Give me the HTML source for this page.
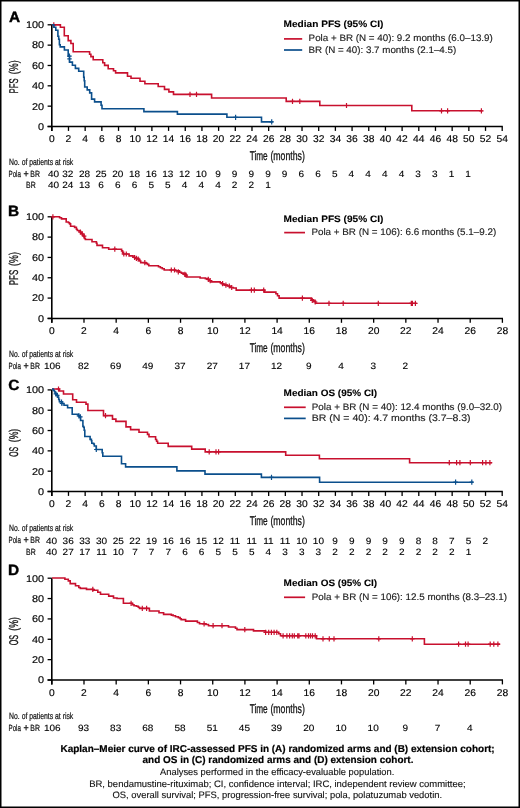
<!DOCTYPE html><html><head><meta charset="utf-8"><style>html,body{margin:0;padding:0;background:#fff;width:520px;height:808px;overflow:hidden}svg{display:block;will-change:transform}</style></head><body>
<svg width="520" height="808" viewBox="0 0 520 808" font-family='"Liberation Sans", sans-serif' text-rendering="geometricPrecision">
<rect x="0" y="0" width="520" height="808" fill="#fff"/>
<rect x="0" y="0" width="520" height="1.5" fill="#000"/>
<rect x="0" y="0" width="1.5" height="808" fill="#000"/>
<rect x="518.5" y="0" width="1.5" height="808" fill="#000"/>
<rect x="0" y="806.5" width="520" height="1.5" fill="#000"/>
<text x="8.9" y="21.6" font-size="14.8" font-weight="bold" textLength="11.12" lengthAdjust="spacingAndGlyphs" stroke="#000" stroke-width="0.4" fill="#000">A</text>
<line x1="51.8" y1="24.8" x2="51.8" y2="130.9" stroke="#000" stroke-width="1.6"/>
<line x1="47.599999999999994" y1="126.5" x2="502.8" y2="126.5" stroke="#000" stroke-width="1.5"/>
<line x1="47.599999999999994" y1="126.50" x2="51.8" y2="126.50" stroke="#000" stroke-width="1.3"/>
<text x="44.1" y="129.85" font-size="9.8" text-anchor="end" textLength="6.05" lengthAdjust="spacingAndGlyphs" stroke="#000" stroke-width="0.15" fill="#000">0</text>
<line x1="47.599999999999994" y1="106.16" x2="51.8" y2="106.16" stroke="#000" stroke-width="1.3"/>
<text x="44.1" y="109.51" font-size="9.8" text-anchor="end" textLength="12.10" lengthAdjust="spacingAndGlyphs" stroke="#000" stroke-width="0.15" fill="#000">20</text>
<line x1="47.599999999999994" y1="85.82" x2="51.8" y2="85.82" stroke="#000" stroke-width="1.3"/>
<text x="44.1" y="89.17" font-size="9.8" text-anchor="end" textLength="12.10" lengthAdjust="spacingAndGlyphs" stroke="#000" stroke-width="0.15" fill="#000">40</text>
<line x1="47.599999999999994" y1="65.48" x2="51.8" y2="65.48" stroke="#000" stroke-width="1.3"/>
<text x="44.1" y="68.83" font-size="9.8" text-anchor="end" textLength="12.10" lengthAdjust="spacingAndGlyphs" stroke="#000" stroke-width="0.15" fill="#000">60</text>
<line x1="47.599999999999994" y1="45.14" x2="51.8" y2="45.14" stroke="#000" stroke-width="1.3"/>
<text x="44.1" y="48.49" font-size="9.8" text-anchor="end" textLength="12.10" lengthAdjust="spacingAndGlyphs" stroke="#000" stroke-width="0.15" fill="#000">80</text>
<line x1="47.599999999999994" y1="24.80" x2="51.8" y2="24.80" stroke="#000" stroke-width="1.3"/>
<text x="44.1" y="28.15" font-size="9.8" text-anchor="end" textLength="18.15" lengthAdjust="spacingAndGlyphs" stroke="#000" stroke-width="0.15" fill="#000">100</text>
<line x1="51.80" y1="126.5" x2="51.80" y2="130.9" stroke="#000" stroke-width="1.3"/>
<text x="51.80" y="142.00" font-size="9.8" text-anchor="middle" textLength="5.72" lengthAdjust="spacingAndGlyphs" stroke="#000" stroke-width="0.15" fill="#000">0</text>
<line x1="68.48" y1="126.5" x2="68.48" y2="130.9" stroke="#000" stroke-width="1.3"/>
<text x="68.48" y="142.00" font-size="9.8" text-anchor="middle" textLength="5.72" lengthAdjust="spacingAndGlyphs" stroke="#000" stroke-width="0.15" fill="#000">2</text>
<line x1="85.16" y1="126.5" x2="85.16" y2="130.9" stroke="#000" stroke-width="1.3"/>
<text x="85.16" y="142.00" font-size="9.8" text-anchor="middle" textLength="5.72" lengthAdjust="spacingAndGlyphs" stroke="#000" stroke-width="0.15" fill="#000">4</text>
<line x1="101.84" y1="126.5" x2="101.84" y2="130.9" stroke="#000" stroke-width="1.3"/>
<text x="101.84" y="142.00" font-size="9.8" text-anchor="middle" textLength="5.72" lengthAdjust="spacingAndGlyphs" stroke="#000" stroke-width="0.15" fill="#000">6</text>
<line x1="118.53" y1="126.5" x2="118.53" y2="130.9" stroke="#000" stroke-width="1.3"/>
<text x="118.53" y="142.00" font-size="9.8" text-anchor="middle" textLength="5.72" lengthAdjust="spacingAndGlyphs" stroke="#000" stroke-width="0.15" fill="#000">8</text>
<line x1="135.21" y1="126.5" x2="135.21" y2="130.9" stroke="#000" stroke-width="1.3"/>
<text x="135.21" y="142.00" font-size="9.8" text-anchor="middle" textLength="11.45" lengthAdjust="spacingAndGlyphs" stroke="#000" stroke-width="0.15" fill="#000">10</text>
<line x1="151.89" y1="126.5" x2="151.89" y2="130.9" stroke="#000" stroke-width="1.3"/>
<text x="151.89" y="142.00" font-size="9.8" text-anchor="middle" textLength="11.45" lengthAdjust="spacingAndGlyphs" stroke="#000" stroke-width="0.15" fill="#000">12</text>
<line x1="168.57" y1="126.5" x2="168.57" y2="130.9" stroke="#000" stroke-width="1.3"/>
<text x="168.57" y="142.00" font-size="9.8" text-anchor="middle" textLength="11.45" lengthAdjust="spacingAndGlyphs" stroke="#000" stroke-width="0.15" fill="#000">14</text>
<line x1="185.25" y1="126.5" x2="185.25" y2="130.9" stroke="#000" stroke-width="1.3"/>
<text x="185.25" y="142.00" font-size="9.8" text-anchor="middle" textLength="11.45" lengthAdjust="spacingAndGlyphs" stroke="#000" stroke-width="0.15" fill="#000">16</text>
<line x1="201.93" y1="126.5" x2="201.93" y2="130.9" stroke="#000" stroke-width="1.3"/>
<text x="201.93" y="142.00" font-size="9.8" text-anchor="middle" textLength="11.45" lengthAdjust="spacingAndGlyphs" stroke="#000" stroke-width="0.15" fill="#000">18</text>
<line x1="218.61" y1="126.5" x2="218.61" y2="130.9" stroke="#000" stroke-width="1.3"/>
<text x="218.61" y="142.00" font-size="9.8" text-anchor="middle" textLength="11.45" lengthAdjust="spacingAndGlyphs" stroke="#000" stroke-width="0.15" fill="#000">20</text>
<line x1="235.30" y1="126.5" x2="235.30" y2="130.9" stroke="#000" stroke-width="1.3"/>
<text x="235.30" y="142.00" font-size="9.8" text-anchor="middle" textLength="11.45" lengthAdjust="spacingAndGlyphs" stroke="#000" stroke-width="0.15" fill="#000">22</text>
<line x1="251.98" y1="126.5" x2="251.98" y2="130.9" stroke="#000" stroke-width="1.3"/>
<text x="251.98" y="142.00" font-size="9.8" text-anchor="middle" textLength="11.45" lengthAdjust="spacingAndGlyphs" stroke="#000" stroke-width="0.15" fill="#000">24</text>
<line x1="268.66" y1="126.5" x2="268.66" y2="130.9" stroke="#000" stroke-width="1.3"/>
<text x="268.66" y="142.00" font-size="9.8" text-anchor="middle" textLength="11.45" lengthAdjust="spacingAndGlyphs" stroke="#000" stroke-width="0.15" fill="#000">26</text>
<line x1="285.34" y1="126.5" x2="285.34" y2="130.9" stroke="#000" stroke-width="1.3"/>
<text x="285.34" y="142.00" font-size="9.8" text-anchor="middle" textLength="11.45" lengthAdjust="spacingAndGlyphs" stroke="#000" stroke-width="0.15" fill="#000">28</text>
<line x1="302.02" y1="126.5" x2="302.02" y2="130.9" stroke="#000" stroke-width="1.3"/>
<text x="302.02" y="142.00" font-size="9.8" text-anchor="middle" textLength="11.45" lengthAdjust="spacingAndGlyphs" stroke="#000" stroke-width="0.15" fill="#000">30</text>
<line x1="318.70" y1="126.5" x2="318.70" y2="130.9" stroke="#000" stroke-width="1.3"/>
<text x="318.70" y="142.00" font-size="9.8" text-anchor="middle" textLength="11.45" lengthAdjust="spacingAndGlyphs" stroke="#000" stroke-width="0.15" fill="#000">32</text>
<line x1="335.39" y1="126.5" x2="335.39" y2="130.9" stroke="#000" stroke-width="1.3"/>
<text x="335.39" y="142.00" font-size="9.8" text-anchor="middle" textLength="11.45" lengthAdjust="spacingAndGlyphs" stroke="#000" stroke-width="0.15" fill="#000">34</text>
<line x1="352.07" y1="126.5" x2="352.07" y2="130.9" stroke="#000" stroke-width="1.3"/>
<text x="352.07" y="142.00" font-size="9.8" text-anchor="middle" textLength="11.45" lengthAdjust="spacingAndGlyphs" stroke="#000" stroke-width="0.15" fill="#000">36</text>
<line x1="368.75" y1="126.5" x2="368.75" y2="130.9" stroke="#000" stroke-width="1.3"/>
<text x="368.75" y="142.00" font-size="9.8" text-anchor="middle" textLength="11.45" lengthAdjust="spacingAndGlyphs" stroke="#000" stroke-width="0.15" fill="#000">38</text>
<line x1="385.43" y1="126.5" x2="385.43" y2="130.9" stroke="#000" stroke-width="1.3"/>
<text x="385.43" y="142.00" font-size="9.8" text-anchor="middle" textLength="11.45" lengthAdjust="spacingAndGlyphs" stroke="#000" stroke-width="0.15" fill="#000">40</text>
<line x1="402.11" y1="126.5" x2="402.11" y2="130.9" stroke="#000" stroke-width="1.3"/>
<text x="402.11" y="142.00" font-size="9.8" text-anchor="middle" textLength="11.45" lengthAdjust="spacingAndGlyphs" stroke="#000" stroke-width="0.15" fill="#000">42</text>
<line x1="418.79" y1="126.5" x2="418.79" y2="130.9" stroke="#000" stroke-width="1.3"/>
<text x="418.79" y="142.00" font-size="9.8" text-anchor="middle" textLength="11.45" lengthAdjust="spacingAndGlyphs" stroke="#000" stroke-width="0.15" fill="#000">44</text>
<line x1="435.47" y1="126.5" x2="435.47" y2="130.9" stroke="#000" stroke-width="1.3"/>
<text x="435.47" y="142.00" font-size="9.8" text-anchor="middle" textLength="11.45" lengthAdjust="spacingAndGlyphs" stroke="#000" stroke-width="0.15" fill="#000">46</text>
<line x1="452.16" y1="126.5" x2="452.16" y2="130.9" stroke="#000" stroke-width="1.3"/>
<text x="452.16" y="142.00" font-size="9.8" text-anchor="middle" textLength="11.45" lengthAdjust="spacingAndGlyphs" stroke="#000" stroke-width="0.15" fill="#000">48</text>
<line x1="468.84" y1="126.5" x2="468.84" y2="130.9" stroke="#000" stroke-width="1.3"/>
<text x="468.84" y="142.00" font-size="9.8" text-anchor="middle" textLength="11.45" lengthAdjust="spacingAndGlyphs" stroke="#000" stroke-width="0.15" fill="#000">50</text>
<line x1="485.52" y1="126.5" x2="485.52" y2="130.9" stroke="#000" stroke-width="1.3"/>
<text x="485.52" y="142.00" font-size="9.8" text-anchor="middle" textLength="11.45" lengthAdjust="spacingAndGlyphs" stroke="#000" stroke-width="0.15" fill="#000">52</text>
<line x1="502.20" y1="126.5" x2="502.20" y2="130.9" stroke="#000" stroke-width="1.3"/>
<text x="502.20" y="142.00" font-size="9.8" text-anchor="middle" textLength="11.45" lengthAdjust="spacingAndGlyphs" stroke="#000" stroke-width="0.15" fill="#000">54</text>
<text transform="translate(17.9,85.9) rotate(-90)" x="0" y="0" font-size="12.7" text-anchor="middle" textLength="15.0" lengthAdjust="spacingAndGlyphs" fill="#111" stroke="#111" stroke-width="0.3">PFS</text>
<text transform="translate(17.9,67.25) rotate(-90)" x="0" y="0" font-size="12.7" text-anchor="middle" textLength="13.9" lengthAdjust="spacingAndGlyphs" fill="#111" stroke="#111" stroke-width="0.3">(%)</text>
<text x="258.7" y="159.80" font-size="12.7" text-anchor="middle" textLength="18.00" lengthAdjust="spacingAndGlyphs" stroke="#111" stroke-width="0.3" fill="#111">Time</text>
<text x="287.6" y="159.80" font-size="12.7" text-anchor="middle" textLength="34.40" lengthAdjust="spacingAndGlyphs" stroke="#111" stroke-width="0.3" fill="#111">(months)</text>
<text x="8.0" y="215.9" font-size="14.8" font-weight="bold" textLength="11.12" lengthAdjust="spacingAndGlyphs" stroke="#000" stroke-width="0.4" fill="#000">B</text>
<line x1="51.8" y1="216.8" x2="51.8" y2="322.79999999999995" stroke="#000" stroke-width="1.6"/>
<line x1="47.599999999999994" y1="318.4" x2="503.0" y2="318.4" stroke="#000" stroke-width="1.5"/>
<line x1="47.599999999999994" y1="318.40" x2="51.8" y2="318.40" stroke="#000" stroke-width="1.3"/>
<text x="44.1" y="321.75" font-size="9.8" text-anchor="end" textLength="6.05" lengthAdjust="spacingAndGlyphs" stroke="#000" stroke-width="0.15" fill="#000">0</text>
<line x1="47.599999999999994" y1="298.08" x2="51.8" y2="298.08" stroke="#000" stroke-width="1.3"/>
<text x="44.1" y="301.43" font-size="9.8" text-anchor="end" textLength="12.10" lengthAdjust="spacingAndGlyphs" stroke="#000" stroke-width="0.15" fill="#000">20</text>
<line x1="47.599999999999994" y1="277.76" x2="51.8" y2="277.76" stroke="#000" stroke-width="1.3"/>
<text x="44.1" y="281.11" font-size="9.8" text-anchor="end" textLength="12.10" lengthAdjust="spacingAndGlyphs" stroke="#000" stroke-width="0.15" fill="#000">40</text>
<line x1="47.599999999999994" y1="257.44" x2="51.8" y2="257.44" stroke="#000" stroke-width="1.3"/>
<text x="44.1" y="260.79" font-size="9.8" text-anchor="end" textLength="12.10" lengthAdjust="spacingAndGlyphs" stroke="#000" stroke-width="0.15" fill="#000">60</text>
<line x1="47.599999999999994" y1="237.12" x2="51.8" y2="237.12" stroke="#000" stroke-width="1.3"/>
<text x="44.1" y="240.47" font-size="9.8" text-anchor="end" textLength="12.10" lengthAdjust="spacingAndGlyphs" stroke="#000" stroke-width="0.15" fill="#000">80</text>
<line x1="47.599999999999994" y1="216.80" x2="51.8" y2="216.80" stroke="#000" stroke-width="1.3"/>
<text x="44.1" y="220.15" font-size="9.8" text-anchor="end" textLength="18.15" lengthAdjust="spacingAndGlyphs" stroke="#000" stroke-width="0.15" fill="#000">100</text>
<line x1="51.80" y1="318.4" x2="51.80" y2="322.79999999999995" stroke="#000" stroke-width="1.3"/>
<text x="51.80" y="333.90" font-size="9.8" text-anchor="middle" textLength="5.72" lengthAdjust="spacingAndGlyphs" stroke="#000" stroke-width="0.15" fill="#000">0</text>
<line x1="83.99" y1="318.4" x2="83.99" y2="322.79999999999995" stroke="#000" stroke-width="1.3"/>
<text x="83.99" y="333.90" font-size="9.8" text-anchor="middle" textLength="5.72" lengthAdjust="spacingAndGlyphs" stroke="#000" stroke-width="0.15" fill="#000">2</text>
<line x1="116.17" y1="318.4" x2="116.17" y2="322.79999999999995" stroke="#000" stroke-width="1.3"/>
<text x="116.17" y="333.90" font-size="9.8" text-anchor="middle" textLength="5.72" lengthAdjust="spacingAndGlyphs" stroke="#000" stroke-width="0.15" fill="#000">4</text>
<line x1="148.36" y1="318.4" x2="148.36" y2="322.79999999999995" stroke="#000" stroke-width="1.3"/>
<text x="148.36" y="333.90" font-size="9.8" text-anchor="middle" textLength="5.72" lengthAdjust="spacingAndGlyphs" stroke="#000" stroke-width="0.15" fill="#000">6</text>
<line x1="180.54" y1="318.4" x2="180.54" y2="322.79999999999995" stroke="#000" stroke-width="1.3"/>
<text x="180.54" y="333.90" font-size="9.8" text-anchor="middle" textLength="5.72" lengthAdjust="spacingAndGlyphs" stroke="#000" stroke-width="0.15" fill="#000">8</text>
<line x1="212.73" y1="318.4" x2="212.73" y2="322.79999999999995" stroke="#000" stroke-width="1.3"/>
<text x="212.73" y="333.90" font-size="9.8" text-anchor="middle" textLength="11.45" lengthAdjust="spacingAndGlyphs" stroke="#000" stroke-width="0.15" fill="#000">10</text>
<line x1="244.91" y1="318.4" x2="244.91" y2="322.79999999999995" stroke="#000" stroke-width="1.3"/>
<text x="244.91" y="333.90" font-size="9.8" text-anchor="middle" textLength="11.45" lengthAdjust="spacingAndGlyphs" stroke="#000" stroke-width="0.15" fill="#000">12</text>
<line x1="277.10" y1="318.4" x2="277.10" y2="322.79999999999995" stroke="#000" stroke-width="1.3"/>
<text x="277.10" y="333.90" font-size="9.8" text-anchor="middle" textLength="11.45" lengthAdjust="spacingAndGlyphs" stroke="#000" stroke-width="0.15" fill="#000">14</text>
<line x1="309.29" y1="318.4" x2="309.29" y2="322.79999999999995" stroke="#000" stroke-width="1.3"/>
<text x="309.29" y="333.90" font-size="9.8" text-anchor="middle" textLength="11.45" lengthAdjust="spacingAndGlyphs" stroke="#000" stroke-width="0.15" fill="#000">16</text>
<line x1="341.47" y1="318.4" x2="341.47" y2="322.79999999999995" stroke="#000" stroke-width="1.3"/>
<text x="341.47" y="333.90" font-size="9.8" text-anchor="middle" textLength="11.45" lengthAdjust="spacingAndGlyphs" stroke="#000" stroke-width="0.15" fill="#000">18</text>
<line x1="373.66" y1="318.4" x2="373.66" y2="322.79999999999995" stroke="#000" stroke-width="1.3"/>
<text x="373.66" y="333.90" font-size="9.8" text-anchor="middle" textLength="11.45" lengthAdjust="spacingAndGlyphs" stroke="#000" stroke-width="0.15" fill="#000">20</text>
<line x1="405.84" y1="318.4" x2="405.84" y2="322.79999999999995" stroke="#000" stroke-width="1.3"/>
<text x="405.84" y="333.90" font-size="9.8" text-anchor="middle" textLength="11.45" lengthAdjust="spacingAndGlyphs" stroke="#000" stroke-width="0.15" fill="#000">22</text>
<line x1="438.03" y1="318.4" x2="438.03" y2="322.79999999999995" stroke="#000" stroke-width="1.3"/>
<text x="438.03" y="333.90" font-size="9.8" text-anchor="middle" textLength="11.45" lengthAdjust="spacingAndGlyphs" stroke="#000" stroke-width="0.15" fill="#000">24</text>
<line x1="470.21" y1="318.4" x2="470.21" y2="322.79999999999995" stroke="#000" stroke-width="1.3"/>
<text x="470.21" y="333.90" font-size="9.8" text-anchor="middle" textLength="11.45" lengthAdjust="spacingAndGlyphs" stroke="#000" stroke-width="0.15" fill="#000">26</text>
<line x1="502.40" y1="318.4" x2="502.40" y2="322.79999999999995" stroke="#000" stroke-width="1.3"/>
<text x="502.40" y="333.90" font-size="9.8" text-anchor="middle" textLength="11.45" lengthAdjust="spacingAndGlyphs" stroke="#000" stroke-width="0.15" fill="#000">28</text>
<text transform="translate(17.9,277.5) rotate(-90)" x="0" y="0" font-size="12.7" text-anchor="middle" textLength="15.4" lengthAdjust="spacingAndGlyphs" fill="#111" stroke="#111" stroke-width="0.3">PFS</text>
<text transform="translate(17.9,259.05) rotate(-90)" x="0" y="0" font-size="12.7" text-anchor="middle" textLength="13.9" lengthAdjust="spacingAndGlyphs" fill="#111" stroke="#111" stroke-width="0.3">(%)</text>
<text x="258.7" y="351.70" font-size="12.7" text-anchor="middle" textLength="18.00" lengthAdjust="spacingAndGlyphs" stroke="#111" stroke-width="0.3" fill="#111">Time</text>
<text x="287.6" y="351.70" font-size="12.7" text-anchor="middle" textLength="34.40" lengthAdjust="spacingAndGlyphs" stroke="#111" stroke-width="0.3" fill="#111">(months)</text>
<text x="8.2" y="389.9" font-size="14.8" font-weight="bold" textLength="11.12" lengthAdjust="spacingAndGlyphs" stroke="#000" stroke-width="0.4" fill="#000">C</text>
<line x1="51.8" y1="389.9" x2="51.8" y2="495.9" stroke="#000" stroke-width="1.6"/>
<line x1="47.599999999999994" y1="491.5" x2="502.8" y2="491.5" stroke="#000" stroke-width="1.5"/>
<line x1="47.599999999999994" y1="491.50" x2="51.8" y2="491.50" stroke="#000" stroke-width="1.3"/>
<text x="44.1" y="494.85" font-size="9.8" text-anchor="end" textLength="6.05" lengthAdjust="spacingAndGlyphs" stroke="#000" stroke-width="0.15" fill="#000">0</text>
<line x1="47.599999999999994" y1="471.18" x2="51.8" y2="471.18" stroke="#000" stroke-width="1.3"/>
<text x="44.1" y="474.53" font-size="9.8" text-anchor="end" textLength="12.10" lengthAdjust="spacingAndGlyphs" stroke="#000" stroke-width="0.15" fill="#000">20</text>
<line x1="47.599999999999994" y1="450.86" x2="51.8" y2="450.86" stroke="#000" stroke-width="1.3"/>
<text x="44.1" y="454.21" font-size="9.8" text-anchor="end" textLength="12.10" lengthAdjust="spacingAndGlyphs" stroke="#000" stroke-width="0.15" fill="#000">40</text>
<line x1="47.599999999999994" y1="430.54" x2="51.8" y2="430.54" stroke="#000" stroke-width="1.3"/>
<text x="44.1" y="433.89" font-size="9.8" text-anchor="end" textLength="12.10" lengthAdjust="spacingAndGlyphs" stroke="#000" stroke-width="0.15" fill="#000">60</text>
<line x1="47.599999999999994" y1="410.22" x2="51.8" y2="410.22" stroke="#000" stroke-width="1.3"/>
<text x="44.1" y="413.57" font-size="9.8" text-anchor="end" textLength="12.10" lengthAdjust="spacingAndGlyphs" stroke="#000" stroke-width="0.15" fill="#000">80</text>
<line x1="47.599999999999994" y1="389.90" x2="51.8" y2="389.90" stroke="#000" stroke-width="1.3"/>
<text x="44.1" y="393.25" font-size="9.8" text-anchor="end" textLength="18.15" lengthAdjust="spacingAndGlyphs" stroke="#000" stroke-width="0.15" fill="#000">100</text>
<line x1="51.80" y1="491.5" x2="51.80" y2="495.9" stroke="#000" stroke-width="1.3"/>
<text x="51.80" y="507.00" font-size="9.8" text-anchor="middle" textLength="5.72" lengthAdjust="spacingAndGlyphs" stroke="#000" stroke-width="0.15" fill="#000">0</text>
<line x1="68.48" y1="491.5" x2="68.48" y2="495.9" stroke="#000" stroke-width="1.3"/>
<text x="68.48" y="507.00" font-size="9.8" text-anchor="middle" textLength="5.72" lengthAdjust="spacingAndGlyphs" stroke="#000" stroke-width="0.15" fill="#000">2</text>
<line x1="85.16" y1="491.5" x2="85.16" y2="495.9" stroke="#000" stroke-width="1.3"/>
<text x="85.16" y="507.00" font-size="9.8" text-anchor="middle" textLength="5.72" lengthAdjust="spacingAndGlyphs" stroke="#000" stroke-width="0.15" fill="#000">4</text>
<line x1="101.84" y1="491.5" x2="101.84" y2="495.9" stroke="#000" stroke-width="1.3"/>
<text x="101.84" y="507.00" font-size="9.8" text-anchor="middle" textLength="5.72" lengthAdjust="spacingAndGlyphs" stroke="#000" stroke-width="0.15" fill="#000">6</text>
<line x1="118.53" y1="491.5" x2="118.53" y2="495.9" stroke="#000" stroke-width="1.3"/>
<text x="118.53" y="507.00" font-size="9.8" text-anchor="middle" textLength="5.72" lengthAdjust="spacingAndGlyphs" stroke="#000" stroke-width="0.15" fill="#000">8</text>
<line x1="135.21" y1="491.5" x2="135.21" y2="495.9" stroke="#000" stroke-width="1.3"/>
<text x="135.21" y="507.00" font-size="9.8" text-anchor="middle" textLength="11.45" lengthAdjust="spacingAndGlyphs" stroke="#000" stroke-width="0.15" fill="#000">10</text>
<line x1="151.89" y1="491.5" x2="151.89" y2="495.9" stroke="#000" stroke-width="1.3"/>
<text x="151.89" y="507.00" font-size="9.8" text-anchor="middle" textLength="11.45" lengthAdjust="spacingAndGlyphs" stroke="#000" stroke-width="0.15" fill="#000">12</text>
<line x1="168.57" y1="491.5" x2="168.57" y2="495.9" stroke="#000" stroke-width="1.3"/>
<text x="168.57" y="507.00" font-size="9.8" text-anchor="middle" textLength="11.45" lengthAdjust="spacingAndGlyphs" stroke="#000" stroke-width="0.15" fill="#000">14</text>
<line x1="185.25" y1="491.5" x2="185.25" y2="495.9" stroke="#000" stroke-width="1.3"/>
<text x="185.25" y="507.00" font-size="9.8" text-anchor="middle" textLength="11.45" lengthAdjust="spacingAndGlyphs" stroke="#000" stroke-width="0.15" fill="#000">16</text>
<line x1="201.93" y1="491.5" x2="201.93" y2="495.9" stroke="#000" stroke-width="1.3"/>
<text x="201.93" y="507.00" font-size="9.8" text-anchor="middle" textLength="11.45" lengthAdjust="spacingAndGlyphs" stroke="#000" stroke-width="0.15" fill="#000">18</text>
<line x1="218.61" y1="491.5" x2="218.61" y2="495.9" stroke="#000" stroke-width="1.3"/>
<text x="218.61" y="507.00" font-size="9.8" text-anchor="middle" textLength="11.45" lengthAdjust="spacingAndGlyphs" stroke="#000" stroke-width="0.15" fill="#000">20</text>
<line x1="235.30" y1="491.5" x2="235.30" y2="495.9" stroke="#000" stroke-width="1.3"/>
<text x="235.30" y="507.00" font-size="9.8" text-anchor="middle" textLength="11.45" lengthAdjust="spacingAndGlyphs" stroke="#000" stroke-width="0.15" fill="#000">22</text>
<line x1="251.98" y1="491.5" x2="251.98" y2="495.9" stroke="#000" stroke-width="1.3"/>
<text x="251.98" y="507.00" font-size="9.8" text-anchor="middle" textLength="11.45" lengthAdjust="spacingAndGlyphs" stroke="#000" stroke-width="0.15" fill="#000">24</text>
<line x1="268.66" y1="491.5" x2="268.66" y2="495.9" stroke="#000" stroke-width="1.3"/>
<text x="268.66" y="507.00" font-size="9.8" text-anchor="middle" textLength="11.45" lengthAdjust="spacingAndGlyphs" stroke="#000" stroke-width="0.15" fill="#000">26</text>
<line x1="285.34" y1="491.5" x2="285.34" y2="495.9" stroke="#000" stroke-width="1.3"/>
<text x="285.34" y="507.00" font-size="9.8" text-anchor="middle" textLength="11.45" lengthAdjust="spacingAndGlyphs" stroke="#000" stroke-width="0.15" fill="#000">28</text>
<line x1="302.02" y1="491.5" x2="302.02" y2="495.9" stroke="#000" stroke-width="1.3"/>
<text x="302.02" y="507.00" font-size="9.8" text-anchor="middle" textLength="11.45" lengthAdjust="spacingAndGlyphs" stroke="#000" stroke-width="0.15" fill="#000">30</text>
<line x1="318.70" y1="491.5" x2="318.70" y2="495.9" stroke="#000" stroke-width="1.3"/>
<text x="318.70" y="507.00" font-size="9.8" text-anchor="middle" textLength="11.45" lengthAdjust="spacingAndGlyphs" stroke="#000" stroke-width="0.15" fill="#000">32</text>
<line x1="335.39" y1="491.5" x2="335.39" y2="495.9" stroke="#000" stroke-width="1.3"/>
<text x="335.39" y="507.00" font-size="9.8" text-anchor="middle" textLength="11.45" lengthAdjust="spacingAndGlyphs" stroke="#000" stroke-width="0.15" fill="#000">34</text>
<line x1="352.07" y1="491.5" x2="352.07" y2="495.9" stroke="#000" stroke-width="1.3"/>
<text x="352.07" y="507.00" font-size="9.8" text-anchor="middle" textLength="11.45" lengthAdjust="spacingAndGlyphs" stroke="#000" stroke-width="0.15" fill="#000">36</text>
<line x1="368.75" y1="491.5" x2="368.75" y2="495.9" stroke="#000" stroke-width="1.3"/>
<text x="368.75" y="507.00" font-size="9.8" text-anchor="middle" textLength="11.45" lengthAdjust="spacingAndGlyphs" stroke="#000" stroke-width="0.15" fill="#000">38</text>
<line x1="385.43" y1="491.5" x2="385.43" y2="495.9" stroke="#000" stroke-width="1.3"/>
<text x="385.43" y="507.00" font-size="9.8" text-anchor="middle" textLength="11.45" lengthAdjust="spacingAndGlyphs" stroke="#000" stroke-width="0.15" fill="#000">40</text>
<line x1="402.11" y1="491.5" x2="402.11" y2="495.9" stroke="#000" stroke-width="1.3"/>
<text x="402.11" y="507.00" font-size="9.8" text-anchor="middle" textLength="11.45" lengthAdjust="spacingAndGlyphs" stroke="#000" stroke-width="0.15" fill="#000">42</text>
<line x1="418.79" y1="491.5" x2="418.79" y2="495.9" stroke="#000" stroke-width="1.3"/>
<text x="418.79" y="507.00" font-size="9.8" text-anchor="middle" textLength="11.45" lengthAdjust="spacingAndGlyphs" stroke="#000" stroke-width="0.15" fill="#000">44</text>
<line x1="435.47" y1="491.5" x2="435.47" y2="495.9" stroke="#000" stroke-width="1.3"/>
<text x="435.47" y="507.00" font-size="9.8" text-anchor="middle" textLength="11.45" lengthAdjust="spacingAndGlyphs" stroke="#000" stroke-width="0.15" fill="#000">46</text>
<line x1="452.16" y1="491.5" x2="452.16" y2="495.9" stroke="#000" stroke-width="1.3"/>
<text x="452.16" y="507.00" font-size="9.8" text-anchor="middle" textLength="11.45" lengthAdjust="spacingAndGlyphs" stroke="#000" stroke-width="0.15" fill="#000">48</text>
<line x1="468.84" y1="491.5" x2="468.84" y2="495.9" stroke="#000" stroke-width="1.3"/>
<text x="468.84" y="507.00" font-size="9.8" text-anchor="middle" textLength="11.45" lengthAdjust="spacingAndGlyphs" stroke="#000" stroke-width="0.15" fill="#000">50</text>
<line x1="485.52" y1="491.5" x2="485.52" y2="495.9" stroke="#000" stroke-width="1.3"/>
<text x="485.52" y="507.00" font-size="9.8" text-anchor="middle" textLength="11.45" lengthAdjust="spacingAndGlyphs" stroke="#000" stroke-width="0.15" fill="#000">52</text>
<line x1="502.20" y1="491.5" x2="502.20" y2="495.9" stroke="#000" stroke-width="1.3"/>
<text x="502.20" y="507.00" font-size="9.8" text-anchor="middle" textLength="11.45" lengthAdjust="spacingAndGlyphs" stroke="#000" stroke-width="0.15" fill="#000">54</text>
<text transform="translate(17.9,451.9) rotate(-90)" x="0" y="0" font-size="12.7" text-anchor="middle" textLength="9.9" lengthAdjust="spacingAndGlyphs" fill="#111" stroke="#111" stroke-width="0.3">OS</text>
<text transform="translate(17.9,435.55) rotate(-90)" x="0" y="0" font-size="12.7" text-anchor="middle" textLength="13.4" lengthAdjust="spacingAndGlyphs" fill="#111" stroke="#111" stroke-width="0.3">(%)</text>
<text x="258.7" y="524.80" font-size="12.7" text-anchor="middle" textLength="18.00" lengthAdjust="spacingAndGlyphs" stroke="#111" stroke-width="0.3" fill="#111">Time</text>
<text x="287.6" y="524.80" font-size="12.7" text-anchor="middle" textLength="34.40" lengthAdjust="spacingAndGlyphs" stroke="#111" stroke-width="0.3" fill="#111">(months)</text>
<text x="8.0" y="575.1" font-size="14.8" font-weight="bold" textLength="11.12" lengthAdjust="spacingAndGlyphs" stroke="#000" stroke-width="0.4" fill="#000">D</text>
<line x1="51.8" y1="578.2" x2="51.8" y2="684.4" stroke="#000" stroke-width="1.6"/>
<line x1="47.599999999999994" y1="680.0" x2="503.0" y2="680.0" stroke="#000" stroke-width="1.5"/>
<line x1="47.599999999999994" y1="680.00" x2="51.8" y2="680.00" stroke="#000" stroke-width="1.3"/>
<text x="44.1" y="683.35" font-size="9.8" text-anchor="end" textLength="6.05" lengthAdjust="spacingAndGlyphs" stroke="#000" stroke-width="0.15" fill="#000">0</text>
<line x1="47.599999999999994" y1="659.64" x2="51.8" y2="659.64" stroke="#000" stroke-width="1.3"/>
<text x="44.1" y="662.99" font-size="9.8" text-anchor="end" textLength="12.10" lengthAdjust="spacingAndGlyphs" stroke="#000" stroke-width="0.15" fill="#000">20</text>
<line x1="47.599999999999994" y1="639.28" x2="51.8" y2="639.28" stroke="#000" stroke-width="1.3"/>
<text x="44.1" y="642.63" font-size="9.8" text-anchor="end" textLength="12.10" lengthAdjust="spacingAndGlyphs" stroke="#000" stroke-width="0.15" fill="#000">40</text>
<line x1="47.599999999999994" y1="618.92" x2="51.8" y2="618.92" stroke="#000" stroke-width="1.3"/>
<text x="44.1" y="622.27" font-size="9.8" text-anchor="end" textLength="12.10" lengthAdjust="spacingAndGlyphs" stroke="#000" stroke-width="0.15" fill="#000">60</text>
<line x1="47.599999999999994" y1="598.56" x2="51.8" y2="598.56" stroke="#000" stroke-width="1.3"/>
<text x="44.1" y="601.91" font-size="9.8" text-anchor="end" textLength="12.10" lengthAdjust="spacingAndGlyphs" stroke="#000" stroke-width="0.15" fill="#000">80</text>
<line x1="47.599999999999994" y1="578.20" x2="51.8" y2="578.20" stroke="#000" stroke-width="1.3"/>
<text x="44.1" y="581.55" font-size="9.8" text-anchor="end" textLength="18.15" lengthAdjust="spacingAndGlyphs" stroke="#000" stroke-width="0.15" fill="#000">100</text>
<line x1="51.80" y1="680.0" x2="51.80" y2="684.4" stroke="#000" stroke-width="1.3"/>
<text x="51.80" y="695.50" font-size="9.8" text-anchor="middle" textLength="5.72" lengthAdjust="spacingAndGlyphs" stroke="#000" stroke-width="0.15" fill="#000">0</text>
<line x1="83.99" y1="680.0" x2="83.99" y2="684.4" stroke="#000" stroke-width="1.3"/>
<text x="83.99" y="695.50" font-size="9.8" text-anchor="middle" textLength="5.72" lengthAdjust="spacingAndGlyphs" stroke="#000" stroke-width="0.15" fill="#000">2</text>
<line x1="116.17" y1="680.0" x2="116.17" y2="684.4" stroke="#000" stroke-width="1.3"/>
<text x="116.17" y="695.50" font-size="9.8" text-anchor="middle" textLength="5.72" lengthAdjust="spacingAndGlyphs" stroke="#000" stroke-width="0.15" fill="#000">4</text>
<line x1="148.36" y1="680.0" x2="148.36" y2="684.4" stroke="#000" stroke-width="1.3"/>
<text x="148.36" y="695.50" font-size="9.8" text-anchor="middle" textLength="5.72" lengthAdjust="spacingAndGlyphs" stroke="#000" stroke-width="0.15" fill="#000">6</text>
<line x1="180.54" y1="680.0" x2="180.54" y2="684.4" stroke="#000" stroke-width="1.3"/>
<text x="180.54" y="695.50" font-size="9.8" text-anchor="middle" textLength="5.72" lengthAdjust="spacingAndGlyphs" stroke="#000" stroke-width="0.15" fill="#000">8</text>
<line x1="212.73" y1="680.0" x2="212.73" y2="684.4" stroke="#000" stroke-width="1.3"/>
<text x="212.73" y="695.50" font-size="9.8" text-anchor="middle" textLength="11.45" lengthAdjust="spacingAndGlyphs" stroke="#000" stroke-width="0.15" fill="#000">10</text>
<line x1="244.91" y1="680.0" x2="244.91" y2="684.4" stroke="#000" stroke-width="1.3"/>
<text x="244.91" y="695.50" font-size="9.8" text-anchor="middle" textLength="11.45" lengthAdjust="spacingAndGlyphs" stroke="#000" stroke-width="0.15" fill="#000">12</text>
<line x1="277.10" y1="680.0" x2="277.10" y2="684.4" stroke="#000" stroke-width="1.3"/>
<text x="277.10" y="695.50" font-size="9.8" text-anchor="middle" textLength="11.45" lengthAdjust="spacingAndGlyphs" stroke="#000" stroke-width="0.15" fill="#000">14</text>
<line x1="309.29" y1="680.0" x2="309.29" y2="684.4" stroke="#000" stroke-width="1.3"/>
<text x="309.29" y="695.50" font-size="9.8" text-anchor="middle" textLength="11.45" lengthAdjust="spacingAndGlyphs" stroke="#000" stroke-width="0.15" fill="#000">16</text>
<line x1="341.47" y1="680.0" x2="341.47" y2="684.4" stroke="#000" stroke-width="1.3"/>
<text x="341.47" y="695.50" font-size="9.8" text-anchor="middle" textLength="11.45" lengthAdjust="spacingAndGlyphs" stroke="#000" stroke-width="0.15" fill="#000">18</text>
<line x1="373.66" y1="680.0" x2="373.66" y2="684.4" stroke="#000" stroke-width="1.3"/>
<text x="373.66" y="695.50" font-size="9.8" text-anchor="middle" textLength="11.45" lengthAdjust="spacingAndGlyphs" stroke="#000" stroke-width="0.15" fill="#000">20</text>
<line x1="405.84" y1="680.0" x2="405.84" y2="684.4" stroke="#000" stroke-width="1.3"/>
<text x="405.84" y="695.50" font-size="9.8" text-anchor="middle" textLength="11.45" lengthAdjust="spacingAndGlyphs" stroke="#000" stroke-width="0.15" fill="#000">22</text>
<line x1="438.03" y1="680.0" x2="438.03" y2="684.4" stroke="#000" stroke-width="1.3"/>
<text x="438.03" y="695.50" font-size="9.8" text-anchor="middle" textLength="11.45" lengthAdjust="spacingAndGlyphs" stroke="#000" stroke-width="0.15" fill="#000">24</text>
<line x1="470.21" y1="680.0" x2="470.21" y2="684.4" stroke="#000" stroke-width="1.3"/>
<text x="470.21" y="695.50" font-size="9.8" text-anchor="middle" textLength="11.45" lengthAdjust="spacingAndGlyphs" stroke="#000" stroke-width="0.15" fill="#000">26</text>
<line x1="502.40" y1="680.0" x2="502.40" y2="684.4" stroke="#000" stroke-width="1.3"/>
<text x="502.40" y="695.50" font-size="9.8" text-anchor="middle" textLength="11.45" lengthAdjust="spacingAndGlyphs" stroke="#000" stroke-width="0.15" fill="#000">28</text>
<text transform="translate(17.9,640.1) rotate(-90)" x="0" y="0" font-size="12.7" text-anchor="middle" textLength="10.3" lengthAdjust="spacingAndGlyphs" fill="#111" stroke="#111" stroke-width="0.3">OS</text>
<text transform="translate(17.9,623.95) rotate(-90)" x="0" y="0" font-size="12.7" text-anchor="middle" textLength="13.6" lengthAdjust="spacingAndGlyphs" fill="#111" stroke="#111" stroke-width="0.3">(%)</text>
<text x="258.7" y="713.30" font-size="12.7" text-anchor="middle" textLength="18.00" lengthAdjust="spacingAndGlyphs" stroke="#111" stroke-width="0.3" fill="#111">Time</text>
<text x="287.6" y="713.30" font-size="12.7" text-anchor="middle" textLength="34.40" lengthAdjust="spacingAndGlyphs" stroke="#111" stroke-width="0.3" fill="#111">(months)</text>
<path d="M52,24.9 H60.4 V27.2 H64.3 V35.7 H68.2 V40.6 H70.9 V43.5 H73.2 V51.8 H89.6 V54.2 H90.9 V56.6 H93.2 V59.8 H102.8 V62.7 H104.6 V65.4 H108.2 V68.7 H113.5 V70.8 H115.6 V72.9 H127.5 V76.2 H131 V78.2 H140 V81.2 H144.9 V83.7 H158.2 V86.5 H164.5 V89.4 H168.9 V91.9 H173.5 V94.4 H211.6 V98 H286.2 V101.4 H319.8 V105.5 H411.8 V110.8 H482.6" fill="none" stroke="#c8102e" stroke-width="1.6" stroke-linejoin="miter" stroke-linecap="butt"/>
<path d="M53.80,22.30V27.50M51.60,24.90H56.00M190.00,91.80V97.00M187.80,94.40H192.20M196.50,91.80V97.00M194.30,94.40H198.70M292.50,98.80V104.00M290.30,101.40H294.70M299.80,98.80V104.00M297.60,101.40H302.00M346.50,102.90V108.10M344.30,105.50H348.70M441.50,108.20V113.40M439.30,110.80H443.70M447.60,108.20V113.40M445.40,110.80H449.80M481.40,108.20V113.40M479.20,110.80H483.60" fill="none" stroke="#c8102e" stroke-width="1.2"/>
<path d="M52,24.9 H53.9 V27.2 H55.8 V30.3 H57.9 V36.2 H58.7 V39.3 H59.4 V44.7 H60.2 V46.9 H64.4 V50 H68.2 V56.1 H69.5 V62.1 H72.4 V65.2 H75.4 V68.4 H78.7 V71.2 H83.7 V77.3 H84.2 V80.8 H84.7 V87 H87.2 V89.9 H89.7 V92.9 H91.6 V99.1 H94.6 V101.9 H101.1 V105.3 H102 V108.7 H143.9 V111.6 H177.4 V114.1 H226.9 V117.3 H261.5 V121.9 H272.8" fill="none" stroke="#0b4f8c" stroke-width="1.6" stroke-linejoin="miter" stroke-linecap="butt"/>
<path d="M69.50,53.50V58.70M67.30,56.10H71.70M69.50,56.30V61.50M67.30,58.90H71.70M235.60,114.70V119.90M233.40,117.30H237.80M271.70,119.30V124.50M269.50,121.90H273.90" fill="none" stroke="#0b4f8c" stroke-width="1.2"/>
<line x1="284" y1="38.9" x2="302.2" y2="38.9" stroke="#c8102e" stroke-width="1.7"/>
<line x1="284" y1="50" x2="302.2" y2="50" stroke="#0b4f8c" stroke-width="1.7"/>
<text x="283.6" y="27.3" font-size="9.3" font-weight="bold" textLength="99.80" lengthAdjust="spacingAndGlyphs" stroke="#000" stroke-width="0.1" fill="#000">Median PFS (95% CI)</text>
<text x="308.6" y="41.1" font-size="9.5" textLength="184.20" lengthAdjust="spacingAndGlyphs" stroke="#222" stroke-width="0.15" fill="#222">Pola + BR (N = 40): 9.2 months (6.0–13.9)</text>
<text x="308.6" y="52.5" font-size="9.5" textLength="147.60" lengthAdjust="spacingAndGlyphs" stroke="#222" stroke-width="0.15" fill="#222">BR (N = 40): 3.7 months (2.1–4.5)</text>
<path d="M52,216.8 H59.6 V217.8 H61.5 V218.9 H66.2 V222 H68.5 V222.8 H69.6 V223.9 H70.6 V226.2 H74.6 V227.4 H76.4 V229.3 H77.3 V230.5 H78.8 V230.9 H80.4 V232.4 H81.5 V233.5 H82.5 V235.1 H83.8 V236.6 H84.6 V238.5 H85.4 V239.5 H92 V241.7 H96.4 V243.2 H97 V245.4 H102.5 V247.7 H108.7 V249.2 H121.6 V250.9 H122.6 V252.6 H123.2 V254 H129.1 V255.9 H133 V257.1 H134.5 V257.8 H136.5 V258.6 H138.8 V260 H139.7 V261 H140.7 V262.6 H146 V263.4 H147.4 V264.4 H148.8 V265.8 H158.5 V266.8 H160.4 V267.7 H162.3 V268.7 H164.2 V270 H175.6 V270.7 H179.5 V272.2 H181.4 V273.1 H183.3 V274.1 H185.7 V275.5 H186.9 V277 H200.1 V278 H205.4 V278.6 H207.5 V279.5 H209.2 V280.8 H211.2 V281.9 H220.2 V282.7 H221.6 V283.5 H222.6 V284.7 H225 V285.1 H227.4 V286 H229.5 V286.6 H230.8 V287.5 H233.2 V288 H236.2 V290.1 H264.5 V292.1 H275.9 V293.7 H277.5 V295.8 H279.1 V298.1 H311.2 V299.9 H313.5 V301.2 H315.6 V303.3 H416.6" fill="none" stroke="#c8102e" stroke-width="1.6" stroke-linejoin="miter" stroke-linecap="butt"/>
<path d="M52.90,214.20V219.40M50.70,216.80H55.10M80.40,229.60V234.80M78.20,232.20H82.60M82.30,231.20V236.40M80.10,233.80H84.50M84.20,233.60V238.80M82.00,236.20H86.40M114.80,246.60V251.80M112.60,249.20H117.00M123.80,251.40V256.60M121.60,254.00H126.00M126.30,251.40V256.60M124.10,254.00H128.50M134.60,254.90V260.10M132.40,257.50H136.80M136.40,255.70V260.90M134.20,258.30H138.60M138.20,256.60V261.80M136.00,259.20H140.40M144.80,260.00V265.20M142.60,262.60H147.00M171.30,267.40V272.60M169.10,270.00H173.50M174.50,267.40V272.60M172.30,270.00H176.70M178.30,269.20V274.40M176.10,271.80H180.50M184.80,271.70V276.90M182.60,274.30H187.00M185.90,272.40V277.60M183.70,275.00H188.10M208.30,276.70V281.90M206.10,279.30H210.50M210.20,278.00V283.20M208.00,280.60H212.40M222.60,281.10V286.30M220.40,283.70H224.80M225.90,282.50V287.70M223.70,285.10H228.10M229.30,283.40V288.60M227.10,286.00H231.50M231.70,284.90V290.10M229.50,287.50H233.90M251.40,287.50V292.70M249.20,290.10H253.60M254.30,287.50V292.70M252.10,290.10H256.50M263.70,287.50V292.70M261.50,290.10H265.90M302.40,295.50V300.70M300.20,298.10H304.60M312.30,297.80V303.00M310.10,300.40H314.50M315.20,299.40V304.60M313.00,302.00H317.40M329.00,300.70V305.90M326.80,303.30H331.20M343.20,300.70V305.90M341.00,303.30H345.40M378.30,300.70V305.90M376.10,303.30H380.50M411.30,300.70V305.90M409.10,303.30H413.50M412.40,300.70V305.90M410.20,303.30H414.60M415.40,300.70V305.90M413.20,303.30H417.60" fill="none" stroke="#c8102e" stroke-width="1.2"/>
<line x1="284.2" y1="232.6" x2="305" y2="232.6" stroke="#c8102e" stroke-width="1.7"/>
<text x="283.6" y="222.1" font-size="9.3" font-weight="bold" textLength="99.80" lengthAdjust="spacingAndGlyphs" stroke="#000" stroke-width="0.1" fill="#000">Median PFS (95% CI)</text>
<text x="311.4" y="234.9" font-size="9.5" textLength="184.80" lengthAdjust="spacingAndGlyphs" stroke="#222" stroke-width="0.15" fill="#222">Pola + BR (N = 106): 6.6 months (5.1–9.2)</text>
<path d="M52,389 H59.3 V391 H63.5 V394 H72.7 V399.8 H76.5 V402.2 H86 V404.1 H87.9 V410.5 H103.5 V415.6 H112.5 V419.1 H115.9 V421.4 H126 V426.9 H130.6 V429.6 H139 V432.3 H147.5 V434.4 H149 V436.7 H155.6 V439.5 H156.6 V441.2 H157.6 V443.3 H168.2 V446.4 H191.7 V449.1 H205.2 V451.9 H285.7 V455.2 H319.4 V458.7 H409.6 V462.7 H492.2" fill="none" stroke="#c8102e" stroke-width="1.6" stroke-linejoin="miter" stroke-linecap="butt"/>
<path d="M58.50,386.40V391.60M56.30,389.00H60.70M105.50,413.00V418.20M103.30,415.60H107.70M209.20,449.30V454.50M207.00,451.90H211.40M216.00,449.30V454.50M213.80,451.90H218.20M218.60,449.30V454.50M216.40,451.90H220.80M449.30,460.10V465.30M447.10,462.70H451.50M456.60,460.10V465.30M454.40,462.70H458.80M459.90,460.10V465.30M457.70,462.70H462.10M470.30,460.10V465.30M468.10,462.70H472.50M482.60,460.10V465.30M480.40,462.70H484.80M485.90,460.10V465.30M483.70,462.70H488.10M489.90,460.10V465.30M487.70,462.70H492.10" fill="none" stroke="#c8102e" stroke-width="1.2"/>
<path d="M52,389 H53.3 V390.2 H54.3 V391.5 H55 V393 H56 V394.3 H57 V395.5 H58 V397.3 H58.7 V399.5 H59.4 V401.7 H62 V403.5 H64 V405.2 H67.6 V407.7 H72.2 V414.2 H78.4 V415.9 H79.9 V417.2 H80.6 V420.5 H82.9 V426.3 H83.5 V427.3 H84.2 V430.3 H84.8 V436.5 H90.1 V439.4 H91.4 V440.7 H91.8 V443.3 H93.6 V444 H94.3 V446 H96.3 V449.5 H102.2 V452.8 H102.8 V456.3 H121.5 V463.7 H125.6 V466.9 H176.9 V470.9 H205 V474.1 H261.4 V477.4 H319.6 V482.2 H473" fill="none" stroke="#0b4f8c" stroke-width="1.6" stroke-linejoin="miter" stroke-linecap="butt"/>
<path d="M55.80,391.20V396.40M53.60,393.80H58.00M57.30,392.80V398.00M55.10,395.40H59.50M61.50,399.40V404.60M59.30,402.00H63.70M61.90,400.90V406.10M59.70,403.50H64.10M78.90,413.20V418.40M76.70,415.80H81.10M80.40,414.30V419.50M78.20,416.90H82.60M96.30,446.90V452.10M94.10,449.50H98.50M271.50,474.80V480.00M269.30,477.40H273.70M455.60,479.60V484.80M453.40,482.20H457.80M471.80,479.60V484.80M469.60,482.20H474.00" fill="none" stroke="#0b4f8c" stroke-width="1.2"/>
<line x1="284" y1="407.3" x2="305.7" y2="407.3" stroke="#c8102e" stroke-width="1.7"/>
<line x1="284" y1="418.4" x2="305.7" y2="418.4" stroke="#0b4f8c" stroke-width="1.7"/>
<text x="283.6" y="395.7" font-size="9.3" font-weight="bold" textLength="93.60" lengthAdjust="spacingAndGlyphs" stroke="#000" stroke-width="0.1" fill="#000">Median OS (95% CI)</text>
<text x="311.8" y="409.5" font-size="9.5" textLength="190.30" lengthAdjust="spacingAndGlyphs" stroke="#222" stroke-width="0.15" fill="#222">Pola + BR (N = 40): 12.4 months (9.0–32.0)</text>
<text x="311.8" y="420.9" font-size="9.5" textLength="158.80" lengthAdjust="spacingAndGlyphs" stroke="#222" stroke-width="0.15" fill="#222">BR (N = 40): 4.7 months (3.7–8.3)</text>
<path d="M52,578 H64.9 V579.3 H68.3 V580.9 H70.2 V583.6 H75.5 V585.7 H78.8 V587.5 H80.3 V588.4 H86.5 V589.4 H93 V590.3 H97.8 V592.3 H100.5 V594.2 H108.7 V596.1 H113.5 V598 H117 V598.5 H123.4 V603.3 H132.4 V604.8 H134 V605.7 H136.5 V606.2 H138.3 V607.2 H139.5 V608.4 H149.4 V611 H159 V612.7 H163.6 V614.4 H171.4 V615.1 H173.2 V615.8 H175.5 V616.7 H178.3 V617.6 H180.1 V618.7 H181.2 V619.6 H185.6 V621.1 H197.4 V622.5 H199.5 V623.8 H206 V624.5 H208.5 V625.7 H228.5 V627 H235.5 V628.3 H237 V629.6 H253.5 V630.9 H265.5 V632.3 H278.8 V633.7 H280.5 V635.8 H316.5 V638.8 H424.4 V644.2 H500.2" fill="none" stroke="#c8102e" stroke-width="1.6" stroke-linejoin="miter" stroke-linecap="butt"/>
<path d="M92.80,586.80V592.00M90.60,589.40H95.00M131.10,600.70V605.90M128.90,603.30H133.30M142.30,605.80V611.00M140.10,608.40H144.50M146.60,605.80V611.00M144.40,608.40H148.80M204.10,621.20V626.40M201.90,623.80H206.30M213.10,623.10V628.30M210.90,625.70H215.30M222.00,623.10V628.30M219.80,625.70H224.20M244.80,627.00V632.20M242.60,629.60H247.00M265.60,629.70V634.90M263.40,632.30H267.80M268.70,629.70V634.90M266.50,632.30H270.90M271.40,629.70V634.90M269.20,632.30H273.60M274.10,629.70V634.90M271.90,632.30H276.30M276.80,629.70V634.90M274.60,632.30H279.00M283.10,633.20V638.40M280.90,635.80H285.30M286.90,633.20V638.40M284.70,635.80H289.10M289.60,633.20V638.40M287.40,635.80H291.80M292.30,633.20V638.40M290.10,635.80H294.50M294.30,633.20V638.40M292.10,635.80H296.50M297.70,633.20V638.40M295.50,635.80H299.90M299.00,633.20V638.40M296.80,635.80H301.20M305.80,633.20V638.40M303.60,635.80H308.00M308.50,633.20V638.40M306.30,635.80H310.70M310.50,633.20V638.40M308.30,635.80H312.70M312.50,633.20V638.40M310.30,635.80H314.70M315.20,633.20V638.40M313.00,635.80H317.40M323.00,636.20V641.40M320.80,638.80H325.20M329.30,636.20V641.40M327.10,638.80H331.50M334.00,636.20V641.40M331.80,638.80H336.20M378.80,636.20V641.40M376.60,638.80H381.00M412.30,636.20V641.40M410.10,638.80H414.50M458.60,641.60V646.80M456.40,644.20H460.80M465.50,641.60V646.80M463.30,644.20H467.70M468.10,641.60V646.80M465.90,644.20H470.30M490.20,641.60V646.80M488.00,644.20H492.40M493.80,641.60V646.80M491.60,644.20H496.00M497.90,641.60V646.80M495.70,644.20H500.10" fill="none" stroke="#c8102e" stroke-width="1.2"/>
<line x1="284" y1="597.3" x2="305.1" y2="597.3" stroke="#c8102e" stroke-width="1.7"/>
<text x="283.6" y="585.7" font-size="9.3" font-weight="bold" textLength="93.60" lengthAdjust="spacingAndGlyphs" stroke="#000" stroke-width="0.1" fill="#000">Median OS (95% CI)</text>
<text x="311.8" y="599.7" font-size="9.5" textLength="195.20" lengthAdjust="spacingAndGlyphs" stroke="#222" stroke-width="0.15" fill="#222">Pola + BR (N = 106): 12.5 months (8.3–23.1)</text>
<text x="9.1" y="164.8" font-size="9" textLength="64.20" lengthAdjust="spacingAndGlyphs" stroke="#111" stroke-width="0.22" fill="#111">No. of patients at risk</text>
<text x="8.5" y="176.5" font-size="9" textLength="12.40" lengthAdjust="spacingAndGlyphs" stroke="#111" stroke-width="0.22" fill="#111">Pola</text>
<text x="26.0" y="176.5" font-size="10" text-anchor="middle" textLength="5.20" lengthAdjust="spacingAndGlyphs" stroke="#111" stroke-width="0.3" fill="#111">+</text>
<text x="30.3" y="176.5" font-size="9" textLength="9.60" lengthAdjust="spacingAndGlyphs" stroke="#111" stroke-width="0.22" fill="#111">BR</text>
<text x="26.1" y="187.7" font-size="9" textLength="9.60" lengthAdjust="spacingAndGlyphs" stroke="#111" stroke-width="0.22" fill="#111">BR</text>
<text x="53.50" y="176.6" font-size="9.1" text-anchor="middle" textLength="11.13" lengthAdjust="spacingAndGlyphs" stroke="#000" stroke-width="0.12" fill="#000">40</text>
<text x="67.78" y="176.6" font-size="9.1" text-anchor="middle" textLength="11.13" lengthAdjust="spacingAndGlyphs" stroke="#000" stroke-width="0.12" fill="#000">32</text>
<text x="84.46" y="176.6" font-size="9.1" text-anchor="middle" textLength="11.13" lengthAdjust="spacingAndGlyphs" stroke="#000" stroke-width="0.12" fill="#000">28</text>
<text x="101.14" y="176.6" font-size="9.1" text-anchor="middle" textLength="11.13" lengthAdjust="spacingAndGlyphs" stroke="#000" stroke-width="0.12" fill="#000">25</text>
<text x="117.83" y="176.6" font-size="9.1" text-anchor="middle" textLength="11.13" lengthAdjust="spacingAndGlyphs" stroke="#000" stroke-width="0.12" fill="#000">20</text>
<text x="134.51" y="176.6" font-size="9.1" text-anchor="middle" textLength="11.13" lengthAdjust="spacingAndGlyphs" stroke="#000" stroke-width="0.12" fill="#000">18</text>
<text x="151.19" y="176.6" font-size="9.1" text-anchor="middle" textLength="11.13" lengthAdjust="spacingAndGlyphs" stroke="#000" stroke-width="0.12" fill="#000">16</text>
<text x="167.87" y="176.6" font-size="9.1" text-anchor="middle" textLength="11.13" lengthAdjust="spacingAndGlyphs" stroke="#000" stroke-width="0.12" fill="#000">13</text>
<text x="184.55" y="176.6" font-size="9.1" text-anchor="middle" textLength="11.13" lengthAdjust="spacingAndGlyphs" stroke="#000" stroke-width="0.12" fill="#000">12</text>
<text x="201.23" y="176.6" font-size="9.1" text-anchor="middle" textLength="11.13" lengthAdjust="spacingAndGlyphs" stroke="#000" stroke-width="0.12" fill="#000">10</text>
<text x="217.91" y="176.6" font-size="9.1" text-anchor="middle" textLength="5.57" lengthAdjust="spacingAndGlyphs" stroke="#000" stroke-width="0.12" fill="#000">9</text>
<text x="234.60" y="176.6" font-size="9.1" text-anchor="middle" textLength="5.57" lengthAdjust="spacingAndGlyphs" stroke="#000" stroke-width="0.12" fill="#000">9</text>
<text x="251.28" y="176.6" font-size="9.1" text-anchor="middle" textLength="5.57" lengthAdjust="spacingAndGlyphs" stroke="#000" stroke-width="0.12" fill="#000">9</text>
<text x="267.96" y="176.6" font-size="9.1" text-anchor="middle" textLength="5.57" lengthAdjust="spacingAndGlyphs" stroke="#000" stroke-width="0.12" fill="#000">9</text>
<text x="284.64" y="176.6" font-size="9.1" text-anchor="middle" textLength="5.57" lengthAdjust="spacingAndGlyphs" stroke="#000" stroke-width="0.12" fill="#000">9</text>
<text x="301.32" y="176.6" font-size="9.1" text-anchor="middle" textLength="5.57" lengthAdjust="spacingAndGlyphs" stroke="#000" stroke-width="0.12" fill="#000">6</text>
<text x="318.00" y="176.6" font-size="9.1" text-anchor="middle" textLength="5.57" lengthAdjust="spacingAndGlyphs" stroke="#000" stroke-width="0.12" fill="#000">6</text>
<text x="334.69" y="176.6" font-size="9.1" text-anchor="middle" textLength="5.57" lengthAdjust="spacingAndGlyphs" stroke="#000" stroke-width="0.12" fill="#000">5</text>
<text x="351.37" y="176.6" font-size="9.1" text-anchor="middle" textLength="5.57" lengthAdjust="spacingAndGlyphs" stroke="#000" stroke-width="0.12" fill="#000">4</text>
<text x="368.05" y="176.6" font-size="9.1" text-anchor="middle" textLength="5.57" lengthAdjust="spacingAndGlyphs" stroke="#000" stroke-width="0.12" fill="#000">4</text>
<text x="384.73" y="176.6" font-size="9.1" text-anchor="middle" textLength="5.57" lengthAdjust="spacingAndGlyphs" stroke="#000" stroke-width="0.12" fill="#000">4</text>
<text x="401.41" y="176.6" font-size="9.1" text-anchor="middle" textLength="5.57" lengthAdjust="spacingAndGlyphs" stroke="#000" stroke-width="0.12" fill="#000">4</text>
<text x="418.09" y="176.6" font-size="9.1" text-anchor="middle" textLength="5.57" lengthAdjust="spacingAndGlyphs" stroke="#000" stroke-width="0.12" fill="#000">3</text>
<text x="434.77" y="176.6" font-size="9.1" text-anchor="middle" textLength="5.57" lengthAdjust="spacingAndGlyphs" stroke="#000" stroke-width="0.12" fill="#000">3</text>
<text x="451.46" y="176.6" font-size="9.1" text-anchor="middle" textLength="5.57" lengthAdjust="spacingAndGlyphs" stroke="#000" stroke-width="0.12" fill="#000">1</text>
<text x="468.14" y="176.6" font-size="9.1" text-anchor="middle" textLength="5.57" lengthAdjust="spacingAndGlyphs" stroke="#000" stroke-width="0.12" fill="#000">1</text>
<text x="53.50" y="187.5" font-size="9.1" text-anchor="middle" textLength="11.13" lengthAdjust="spacingAndGlyphs" stroke="#000" stroke-width="0.12" fill="#000">40</text>
<text x="67.78" y="187.5" font-size="9.1" text-anchor="middle" textLength="11.13" lengthAdjust="spacingAndGlyphs" stroke="#000" stroke-width="0.12" fill="#000">24</text>
<text x="84.46" y="187.5" font-size="9.1" text-anchor="middle" textLength="11.13" lengthAdjust="spacingAndGlyphs" stroke="#000" stroke-width="0.12" fill="#000">13</text>
<text x="101.14" y="187.5" font-size="9.1" text-anchor="middle" textLength="5.57" lengthAdjust="spacingAndGlyphs" stroke="#000" stroke-width="0.12" fill="#000">6</text>
<text x="117.83" y="187.5" font-size="9.1" text-anchor="middle" textLength="5.57" lengthAdjust="spacingAndGlyphs" stroke="#000" stroke-width="0.12" fill="#000">6</text>
<text x="134.51" y="187.5" font-size="9.1" text-anchor="middle" textLength="5.57" lengthAdjust="spacingAndGlyphs" stroke="#000" stroke-width="0.12" fill="#000">6</text>
<text x="151.19" y="187.5" font-size="9.1" text-anchor="middle" textLength="5.57" lengthAdjust="spacingAndGlyphs" stroke="#000" stroke-width="0.12" fill="#000">5</text>
<text x="167.87" y="187.5" font-size="9.1" text-anchor="middle" textLength="5.57" lengthAdjust="spacingAndGlyphs" stroke="#000" stroke-width="0.12" fill="#000">5</text>
<text x="184.55" y="187.5" font-size="9.1" text-anchor="middle" textLength="5.57" lengthAdjust="spacingAndGlyphs" stroke="#000" stroke-width="0.12" fill="#000">4</text>
<text x="201.23" y="187.5" font-size="9.1" text-anchor="middle" textLength="5.57" lengthAdjust="spacingAndGlyphs" stroke="#000" stroke-width="0.12" fill="#000">4</text>
<text x="217.91" y="187.5" font-size="9.1" text-anchor="middle" textLength="5.57" lengthAdjust="spacingAndGlyphs" stroke="#000" stroke-width="0.12" fill="#000">4</text>
<text x="234.60" y="187.5" font-size="9.1" text-anchor="middle" textLength="5.57" lengthAdjust="spacingAndGlyphs" stroke="#000" stroke-width="0.12" fill="#000">2</text>
<text x="251.28" y="187.5" font-size="9.1" text-anchor="middle" textLength="5.57" lengthAdjust="spacingAndGlyphs" stroke="#000" stroke-width="0.12" fill="#000">2</text>
<text x="267.96" y="187.5" font-size="9.1" text-anchor="middle" textLength="5.57" lengthAdjust="spacingAndGlyphs" stroke="#000" stroke-width="0.12" fill="#000">1</text>
<text x="9.1" y="357.1" font-size="9" textLength="64.20" lengthAdjust="spacingAndGlyphs" stroke="#111" stroke-width="0.22" fill="#111">No. of patients at risk</text>
<text x="8.5" y="368.9" font-size="9" textLength="12.40" lengthAdjust="spacingAndGlyphs" stroke="#111" stroke-width="0.22" fill="#111">Pola</text>
<text x="26.0" y="368.9" font-size="10" text-anchor="middle" textLength="5.20" lengthAdjust="spacingAndGlyphs" stroke="#111" stroke-width="0.3" fill="#111">+</text>
<text x="30.3" y="368.9" font-size="9" textLength="9.60" lengthAdjust="spacingAndGlyphs" stroke="#111" stroke-width="0.22" fill="#111">BR</text>
<text x="52.30" y="368.65" font-size="9.1" text-anchor="middle" textLength="16.70" lengthAdjust="spacingAndGlyphs" stroke="#000" stroke-width="0.12" fill="#000">106</text>
<text x="83.49" y="368.65" font-size="9.1" text-anchor="middle" textLength="11.13" lengthAdjust="spacingAndGlyphs" stroke="#000" stroke-width="0.12" fill="#000">82</text>
<text x="115.67" y="368.65" font-size="9.1" text-anchor="middle" textLength="11.13" lengthAdjust="spacingAndGlyphs" stroke="#000" stroke-width="0.12" fill="#000">69</text>
<text x="147.86" y="368.65" font-size="9.1" text-anchor="middle" textLength="11.13" lengthAdjust="spacingAndGlyphs" stroke="#000" stroke-width="0.12" fill="#000">49</text>
<text x="180.04" y="368.65" font-size="9.1" text-anchor="middle" textLength="11.13" lengthAdjust="spacingAndGlyphs" stroke="#000" stroke-width="0.12" fill="#000">37</text>
<text x="212.23" y="368.65" font-size="9.1" text-anchor="middle" textLength="11.13" lengthAdjust="spacingAndGlyphs" stroke="#000" stroke-width="0.12" fill="#000">27</text>
<text x="244.41" y="368.65" font-size="9.1" text-anchor="middle" textLength="11.13" lengthAdjust="spacingAndGlyphs" stroke="#000" stroke-width="0.12" fill="#000">17</text>
<text x="276.60" y="368.65" font-size="9.1" text-anchor="middle" textLength="11.13" lengthAdjust="spacingAndGlyphs" stroke="#000" stroke-width="0.12" fill="#000">12</text>
<text x="308.79" y="368.65" font-size="9.1" text-anchor="middle" textLength="5.57" lengthAdjust="spacingAndGlyphs" stroke="#000" stroke-width="0.12" fill="#000">9</text>
<text x="340.97" y="368.65" font-size="9.1" text-anchor="middle" textLength="5.57" lengthAdjust="spacingAndGlyphs" stroke="#000" stroke-width="0.12" fill="#000">4</text>
<text x="373.16" y="368.65" font-size="9.1" text-anchor="middle" textLength="5.57" lengthAdjust="spacingAndGlyphs" stroke="#000" stroke-width="0.12" fill="#000">3</text>
<text x="405.34" y="368.65" font-size="9.1" text-anchor="middle" textLength="5.57" lengthAdjust="spacingAndGlyphs" stroke="#000" stroke-width="0.12" fill="#000">2</text>
<text x="9.1" y="530.9" font-size="9" textLength="64.20" lengthAdjust="spacingAndGlyphs" stroke="#111" stroke-width="0.22" fill="#111">No. of patients at risk</text>
<text x="8.5" y="543.1" font-size="9" textLength="12.40" lengthAdjust="spacingAndGlyphs" stroke="#111" stroke-width="0.22" fill="#111">Pola</text>
<text x="26.0" y="543.1" font-size="10" text-anchor="middle" textLength="5.20" lengthAdjust="spacingAndGlyphs" stroke="#111" stroke-width="0.3" fill="#111">+</text>
<text x="30.3" y="543.1" font-size="9" textLength="9.60" lengthAdjust="spacingAndGlyphs" stroke="#111" stroke-width="0.22" fill="#111">BR</text>
<text x="26.1" y="555" font-size="9" textLength="9.60" lengthAdjust="spacingAndGlyphs" stroke="#111" stroke-width="0.22" fill="#111">BR</text>
<text x="51.50" y="544.2" font-size="9.1" text-anchor="middle" textLength="11.13" lengthAdjust="spacingAndGlyphs" stroke="#000" stroke-width="0.12" fill="#000">40</text>
<text x="68.18" y="544.2" font-size="9.1" text-anchor="middle" textLength="11.13" lengthAdjust="spacingAndGlyphs" stroke="#000" stroke-width="0.12" fill="#000">36</text>
<text x="84.86" y="544.2" font-size="9.1" text-anchor="middle" textLength="11.13" lengthAdjust="spacingAndGlyphs" stroke="#000" stroke-width="0.12" fill="#000">33</text>
<text x="101.54" y="544.2" font-size="9.1" text-anchor="middle" textLength="11.13" lengthAdjust="spacingAndGlyphs" stroke="#000" stroke-width="0.12" fill="#000">30</text>
<text x="118.23" y="544.2" font-size="9.1" text-anchor="middle" textLength="11.13" lengthAdjust="spacingAndGlyphs" stroke="#000" stroke-width="0.12" fill="#000">25</text>
<text x="134.91" y="544.2" font-size="9.1" text-anchor="middle" textLength="11.13" lengthAdjust="spacingAndGlyphs" stroke="#000" stroke-width="0.12" fill="#000">22</text>
<text x="151.59" y="544.2" font-size="9.1" text-anchor="middle" textLength="11.13" lengthAdjust="spacingAndGlyphs" stroke="#000" stroke-width="0.12" fill="#000">19</text>
<text x="168.27" y="544.2" font-size="9.1" text-anchor="middle" textLength="11.13" lengthAdjust="spacingAndGlyphs" stroke="#000" stroke-width="0.12" fill="#000">16</text>
<text x="184.95" y="544.2" font-size="9.1" text-anchor="middle" textLength="11.13" lengthAdjust="spacingAndGlyphs" stroke="#000" stroke-width="0.12" fill="#000">16</text>
<text x="201.63" y="544.2" font-size="9.1" text-anchor="middle" textLength="11.13" lengthAdjust="spacingAndGlyphs" stroke="#000" stroke-width="0.12" fill="#000">15</text>
<text x="218.31" y="544.2" font-size="9.1" text-anchor="middle" textLength="11.13" lengthAdjust="spacingAndGlyphs" stroke="#000" stroke-width="0.12" fill="#000">12</text>
<text x="235.00" y="544.2" font-size="9.1" text-anchor="middle" textLength="10.39" lengthAdjust="spacingAndGlyphs" stroke="#000" stroke-width="0.12" fill="#000">11</text>
<text x="251.68" y="544.2" font-size="9.1" text-anchor="middle" textLength="10.39" lengthAdjust="spacingAndGlyphs" stroke="#000" stroke-width="0.12" fill="#000">11</text>
<text x="268.36" y="544.2" font-size="9.1" text-anchor="middle" textLength="10.39" lengthAdjust="spacingAndGlyphs" stroke="#000" stroke-width="0.12" fill="#000">11</text>
<text x="285.04" y="544.2" font-size="9.1" text-anchor="middle" textLength="10.39" lengthAdjust="spacingAndGlyphs" stroke="#000" stroke-width="0.12" fill="#000">11</text>
<text x="301.72" y="544.2" font-size="9.1" text-anchor="middle" textLength="11.13" lengthAdjust="spacingAndGlyphs" stroke="#000" stroke-width="0.12" fill="#000">10</text>
<text x="318.40" y="544.2" font-size="9.1" text-anchor="middle" textLength="11.13" lengthAdjust="spacingAndGlyphs" stroke="#000" stroke-width="0.12" fill="#000">10</text>
<text x="335.09" y="544.2" font-size="9.1" text-anchor="middle" textLength="5.57" lengthAdjust="spacingAndGlyphs" stroke="#000" stroke-width="0.12" fill="#000">9</text>
<text x="351.77" y="544.2" font-size="9.1" text-anchor="middle" textLength="5.57" lengthAdjust="spacingAndGlyphs" stroke="#000" stroke-width="0.12" fill="#000">9</text>
<text x="368.45" y="544.2" font-size="9.1" text-anchor="middle" textLength="5.57" lengthAdjust="spacingAndGlyphs" stroke="#000" stroke-width="0.12" fill="#000">9</text>
<text x="385.13" y="544.2" font-size="9.1" text-anchor="middle" textLength="5.57" lengthAdjust="spacingAndGlyphs" stroke="#000" stroke-width="0.12" fill="#000">9</text>
<text x="401.81" y="544.2" font-size="9.1" text-anchor="middle" textLength="5.57" lengthAdjust="spacingAndGlyphs" stroke="#000" stroke-width="0.12" fill="#000">9</text>
<text x="418.49" y="544.2" font-size="9.1" text-anchor="middle" textLength="5.57" lengthAdjust="spacingAndGlyphs" stroke="#000" stroke-width="0.12" fill="#000">8</text>
<text x="435.17" y="544.2" font-size="9.1" text-anchor="middle" textLength="5.57" lengthAdjust="spacingAndGlyphs" stroke="#000" stroke-width="0.12" fill="#000">8</text>
<text x="451.86" y="544.2" font-size="9.1" text-anchor="middle" textLength="5.57" lengthAdjust="spacingAndGlyphs" stroke="#000" stroke-width="0.12" fill="#000">7</text>
<text x="468.54" y="544.2" font-size="9.1" text-anchor="middle" textLength="5.57" lengthAdjust="spacingAndGlyphs" stroke="#000" stroke-width="0.12" fill="#000">5</text>
<text x="485.22" y="544.2" font-size="9.1" text-anchor="middle" textLength="5.57" lengthAdjust="spacingAndGlyphs" stroke="#000" stroke-width="0.12" fill="#000">2</text>
<text x="51.50" y="554.75" font-size="9.1" text-anchor="middle" textLength="11.13" lengthAdjust="spacingAndGlyphs" stroke="#000" stroke-width="0.12" fill="#000">40</text>
<text x="68.18" y="554.75" font-size="9.1" text-anchor="middle" textLength="11.13" lengthAdjust="spacingAndGlyphs" stroke="#000" stroke-width="0.12" fill="#000">27</text>
<text x="84.86" y="554.75" font-size="9.1" text-anchor="middle" textLength="11.13" lengthAdjust="spacingAndGlyphs" stroke="#000" stroke-width="0.12" fill="#000">17</text>
<text x="101.54" y="554.75" font-size="9.1" text-anchor="middle" textLength="10.39" lengthAdjust="spacingAndGlyphs" stroke="#000" stroke-width="0.12" fill="#000">11</text>
<text x="118.23" y="554.75" font-size="9.1" text-anchor="middle" textLength="11.13" lengthAdjust="spacingAndGlyphs" stroke="#000" stroke-width="0.12" fill="#000">10</text>
<text x="134.91" y="554.75" font-size="9.1" text-anchor="middle" textLength="5.57" lengthAdjust="spacingAndGlyphs" stroke="#000" stroke-width="0.12" fill="#000">7</text>
<text x="151.59" y="554.75" font-size="9.1" text-anchor="middle" textLength="5.57" lengthAdjust="spacingAndGlyphs" stroke="#000" stroke-width="0.12" fill="#000">7</text>
<text x="168.27" y="554.75" font-size="9.1" text-anchor="middle" textLength="5.57" lengthAdjust="spacingAndGlyphs" stroke="#000" stroke-width="0.12" fill="#000">7</text>
<text x="184.95" y="554.75" font-size="9.1" text-anchor="middle" textLength="5.57" lengthAdjust="spacingAndGlyphs" stroke="#000" stroke-width="0.12" fill="#000">6</text>
<text x="201.63" y="554.75" font-size="9.1" text-anchor="middle" textLength="5.57" lengthAdjust="spacingAndGlyphs" stroke="#000" stroke-width="0.12" fill="#000">6</text>
<text x="218.31" y="554.75" font-size="9.1" text-anchor="middle" textLength="5.57" lengthAdjust="spacingAndGlyphs" stroke="#000" stroke-width="0.12" fill="#000">5</text>
<text x="235.00" y="554.75" font-size="9.1" text-anchor="middle" textLength="5.57" lengthAdjust="spacingAndGlyphs" stroke="#000" stroke-width="0.12" fill="#000">5</text>
<text x="251.68" y="554.75" font-size="9.1" text-anchor="middle" textLength="5.57" lengthAdjust="spacingAndGlyphs" stroke="#000" stroke-width="0.12" fill="#000">5</text>
<text x="268.36" y="554.75" font-size="9.1" text-anchor="middle" textLength="5.57" lengthAdjust="spacingAndGlyphs" stroke="#000" stroke-width="0.12" fill="#000">4</text>
<text x="285.04" y="554.75" font-size="9.1" text-anchor="middle" textLength="5.57" lengthAdjust="spacingAndGlyphs" stroke="#000" stroke-width="0.12" fill="#000">3</text>
<text x="301.72" y="554.75" font-size="9.1" text-anchor="middle" textLength="5.57" lengthAdjust="spacingAndGlyphs" stroke="#000" stroke-width="0.12" fill="#000">3</text>
<text x="318.40" y="554.75" font-size="9.1" text-anchor="middle" textLength="5.57" lengthAdjust="spacingAndGlyphs" stroke="#000" stroke-width="0.12" fill="#000">3</text>
<text x="335.09" y="554.75" font-size="9.1" text-anchor="middle" textLength="5.57" lengthAdjust="spacingAndGlyphs" stroke="#000" stroke-width="0.12" fill="#000">2</text>
<text x="351.77" y="554.75" font-size="9.1" text-anchor="middle" textLength="5.57" lengthAdjust="spacingAndGlyphs" stroke="#000" stroke-width="0.12" fill="#000">2</text>
<text x="368.45" y="554.75" font-size="9.1" text-anchor="middle" textLength="5.57" lengthAdjust="spacingAndGlyphs" stroke="#000" stroke-width="0.12" fill="#000">2</text>
<text x="385.13" y="554.75" font-size="9.1" text-anchor="middle" textLength="5.57" lengthAdjust="spacingAndGlyphs" stroke="#000" stroke-width="0.12" fill="#000">2</text>
<text x="401.81" y="554.75" font-size="9.1" text-anchor="middle" textLength="5.57" lengthAdjust="spacingAndGlyphs" stroke="#000" stroke-width="0.12" fill="#000">2</text>
<text x="418.49" y="554.75" font-size="9.1" text-anchor="middle" textLength="5.57" lengthAdjust="spacingAndGlyphs" stroke="#000" stroke-width="0.12" fill="#000">2</text>
<text x="435.17" y="554.75" font-size="9.1" text-anchor="middle" textLength="5.57" lengthAdjust="spacingAndGlyphs" stroke="#000" stroke-width="0.12" fill="#000">2</text>
<text x="451.86" y="554.75" font-size="9.1" text-anchor="middle" textLength="5.57" lengthAdjust="spacingAndGlyphs" stroke="#000" stroke-width="0.12" fill="#000">2</text>
<text x="468.54" y="554.75" font-size="9.1" text-anchor="middle" textLength="5.57" lengthAdjust="spacingAndGlyphs" stroke="#000" stroke-width="0.12" fill="#000">1</text>
<text x="9.1" y="718.8" font-size="9" textLength="64.20" lengthAdjust="spacingAndGlyphs" stroke="#111" stroke-width="0.22" fill="#111">No. of patients at risk</text>
<text x="8.5" y="730.8" font-size="9" textLength="12.40" lengthAdjust="spacingAndGlyphs" stroke="#111" stroke-width="0.22" fill="#111">Pola</text>
<text x="26.0" y="730.8" font-size="10" text-anchor="middle" textLength="5.20" lengthAdjust="spacingAndGlyphs" stroke="#111" stroke-width="0.3" fill="#111">+</text>
<text x="30.3" y="730.8" font-size="9" textLength="9.60" lengthAdjust="spacingAndGlyphs" stroke="#111" stroke-width="0.22" fill="#111">BR</text>
<text x="52.30" y="730.65" font-size="9.1" text-anchor="middle" textLength="16.70" lengthAdjust="spacingAndGlyphs" stroke="#000" stroke-width="0.12" fill="#000">106</text>
<text x="83.49" y="730.65" font-size="9.1" text-anchor="middle" textLength="11.13" lengthAdjust="spacingAndGlyphs" stroke="#000" stroke-width="0.12" fill="#000">93</text>
<text x="115.67" y="730.65" font-size="9.1" text-anchor="middle" textLength="11.13" lengthAdjust="spacingAndGlyphs" stroke="#000" stroke-width="0.12" fill="#000">83</text>
<text x="147.86" y="730.65" font-size="9.1" text-anchor="middle" textLength="11.13" lengthAdjust="spacingAndGlyphs" stroke="#000" stroke-width="0.12" fill="#000">68</text>
<text x="180.04" y="730.65" font-size="9.1" text-anchor="middle" textLength="11.13" lengthAdjust="spacingAndGlyphs" stroke="#000" stroke-width="0.12" fill="#000">58</text>
<text x="212.23" y="730.65" font-size="9.1" text-anchor="middle" textLength="11.13" lengthAdjust="spacingAndGlyphs" stroke="#000" stroke-width="0.12" fill="#000">51</text>
<text x="244.41" y="730.65" font-size="9.1" text-anchor="middle" textLength="11.13" lengthAdjust="spacingAndGlyphs" stroke="#000" stroke-width="0.12" fill="#000">45</text>
<text x="276.60" y="730.65" font-size="9.1" text-anchor="middle" textLength="11.13" lengthAdjust="spacingAndGlyphs" stroke="#000" stroke-width="0.12" fill="#000">39</text>
<text x="308.79" y="730.65" font-size="9.1" text-anchor="middle" textLength="11.13" lengthAdjust="spacingAndGlyphs" stroke="#000" stroke-width="0.12" fill="#000">20</text>
<text x="340.97" y="730.65" font-size="9.1" text-anchor="middle" textLength="11.13" lengthAdjust="spacingAndGlyphs" stroke="#000" stroke-width="0.12" fill="#000">10</text>
<text x="373.16" y="730.65" font-size="9.1" text-anchor="middle" textLength="11.13" lengthAdjust="spacingAndGlyphs" stroke="#000" stroke-width="0.12" fill="#000">10</text>
<text x="405.34" y="730.65" font-size="9.1" text-anchor="middle" textLength="5.57" lengthAdjust="spacingAndGlyphs" stroke="#000" stroke-width="0.12" fill="#000">9</text>
<text x="437.53" y="730.65" font-size="9.1" text-anchor="middle" textLength="5.57" lengthAdjust="spacingAndGlyphs" stroke="#000" stroke-width="0.12" fill="#000">7</text>
<text x="469.71" y="730.65" font-size="9.1" text-anchor="middle" textLength="5.57" lengthAdjust="spacingAndGlyphs" stroke="#000" stroke-width="0.12" fill="#000">4</text>
<text x="277.6" y="751.8" font-size="10" text-anchor="middle" font-weight="bold" textLength="434.20" lengthAdjust="spacingAndGlyphs" stroke="#000" stroke-width="0.2" fill="#000">Kaplan–Meier curve of IRC-assessed PFS in (A) randomized arms and (B) extension cohort;</text>
<text x="278" y="763.2" font-size="10" text-anchor="middle" font-weight="bold" textLength="270.90" lengthAdjust="spacingAndGlyphs" stroke="#000" stroke-width="0.2" fill="#000">and OS in (C) randomized arms and (D) extension cohort.</text>
<text x="277.2" y="775.1" font-size="9.4" text-anchor="middle" textLength="234.30" lengthAdjust="spacingAndGlyphs" stroke="#111" stroke-width="0.12" fill="#111">Analyses performed in the efficacy-evaluable population.</text>
<text x="277.4" y="787.0" font-size="9.4" text-anchor="middle" textLength="376.40" lengthAdjust="spacingAndGlyphs" stroke="#111" stroke-width="0.12" fill="#111">BR, bendamustine-rituximab; CI, confidence interval; IRC, independent review committee;</text>
<text x="277.3" y="798.3" font-size="9.4" text-anchor="middle" textLength="329.60" lengthAdjust="spacingAndGlyphs" stroke="#111" stroke-width="0.12" fill="#111">OS, overall survival; PFS, progression-free survival; pola, polatuzumab vedotin.</text>
</svg></body></html>
